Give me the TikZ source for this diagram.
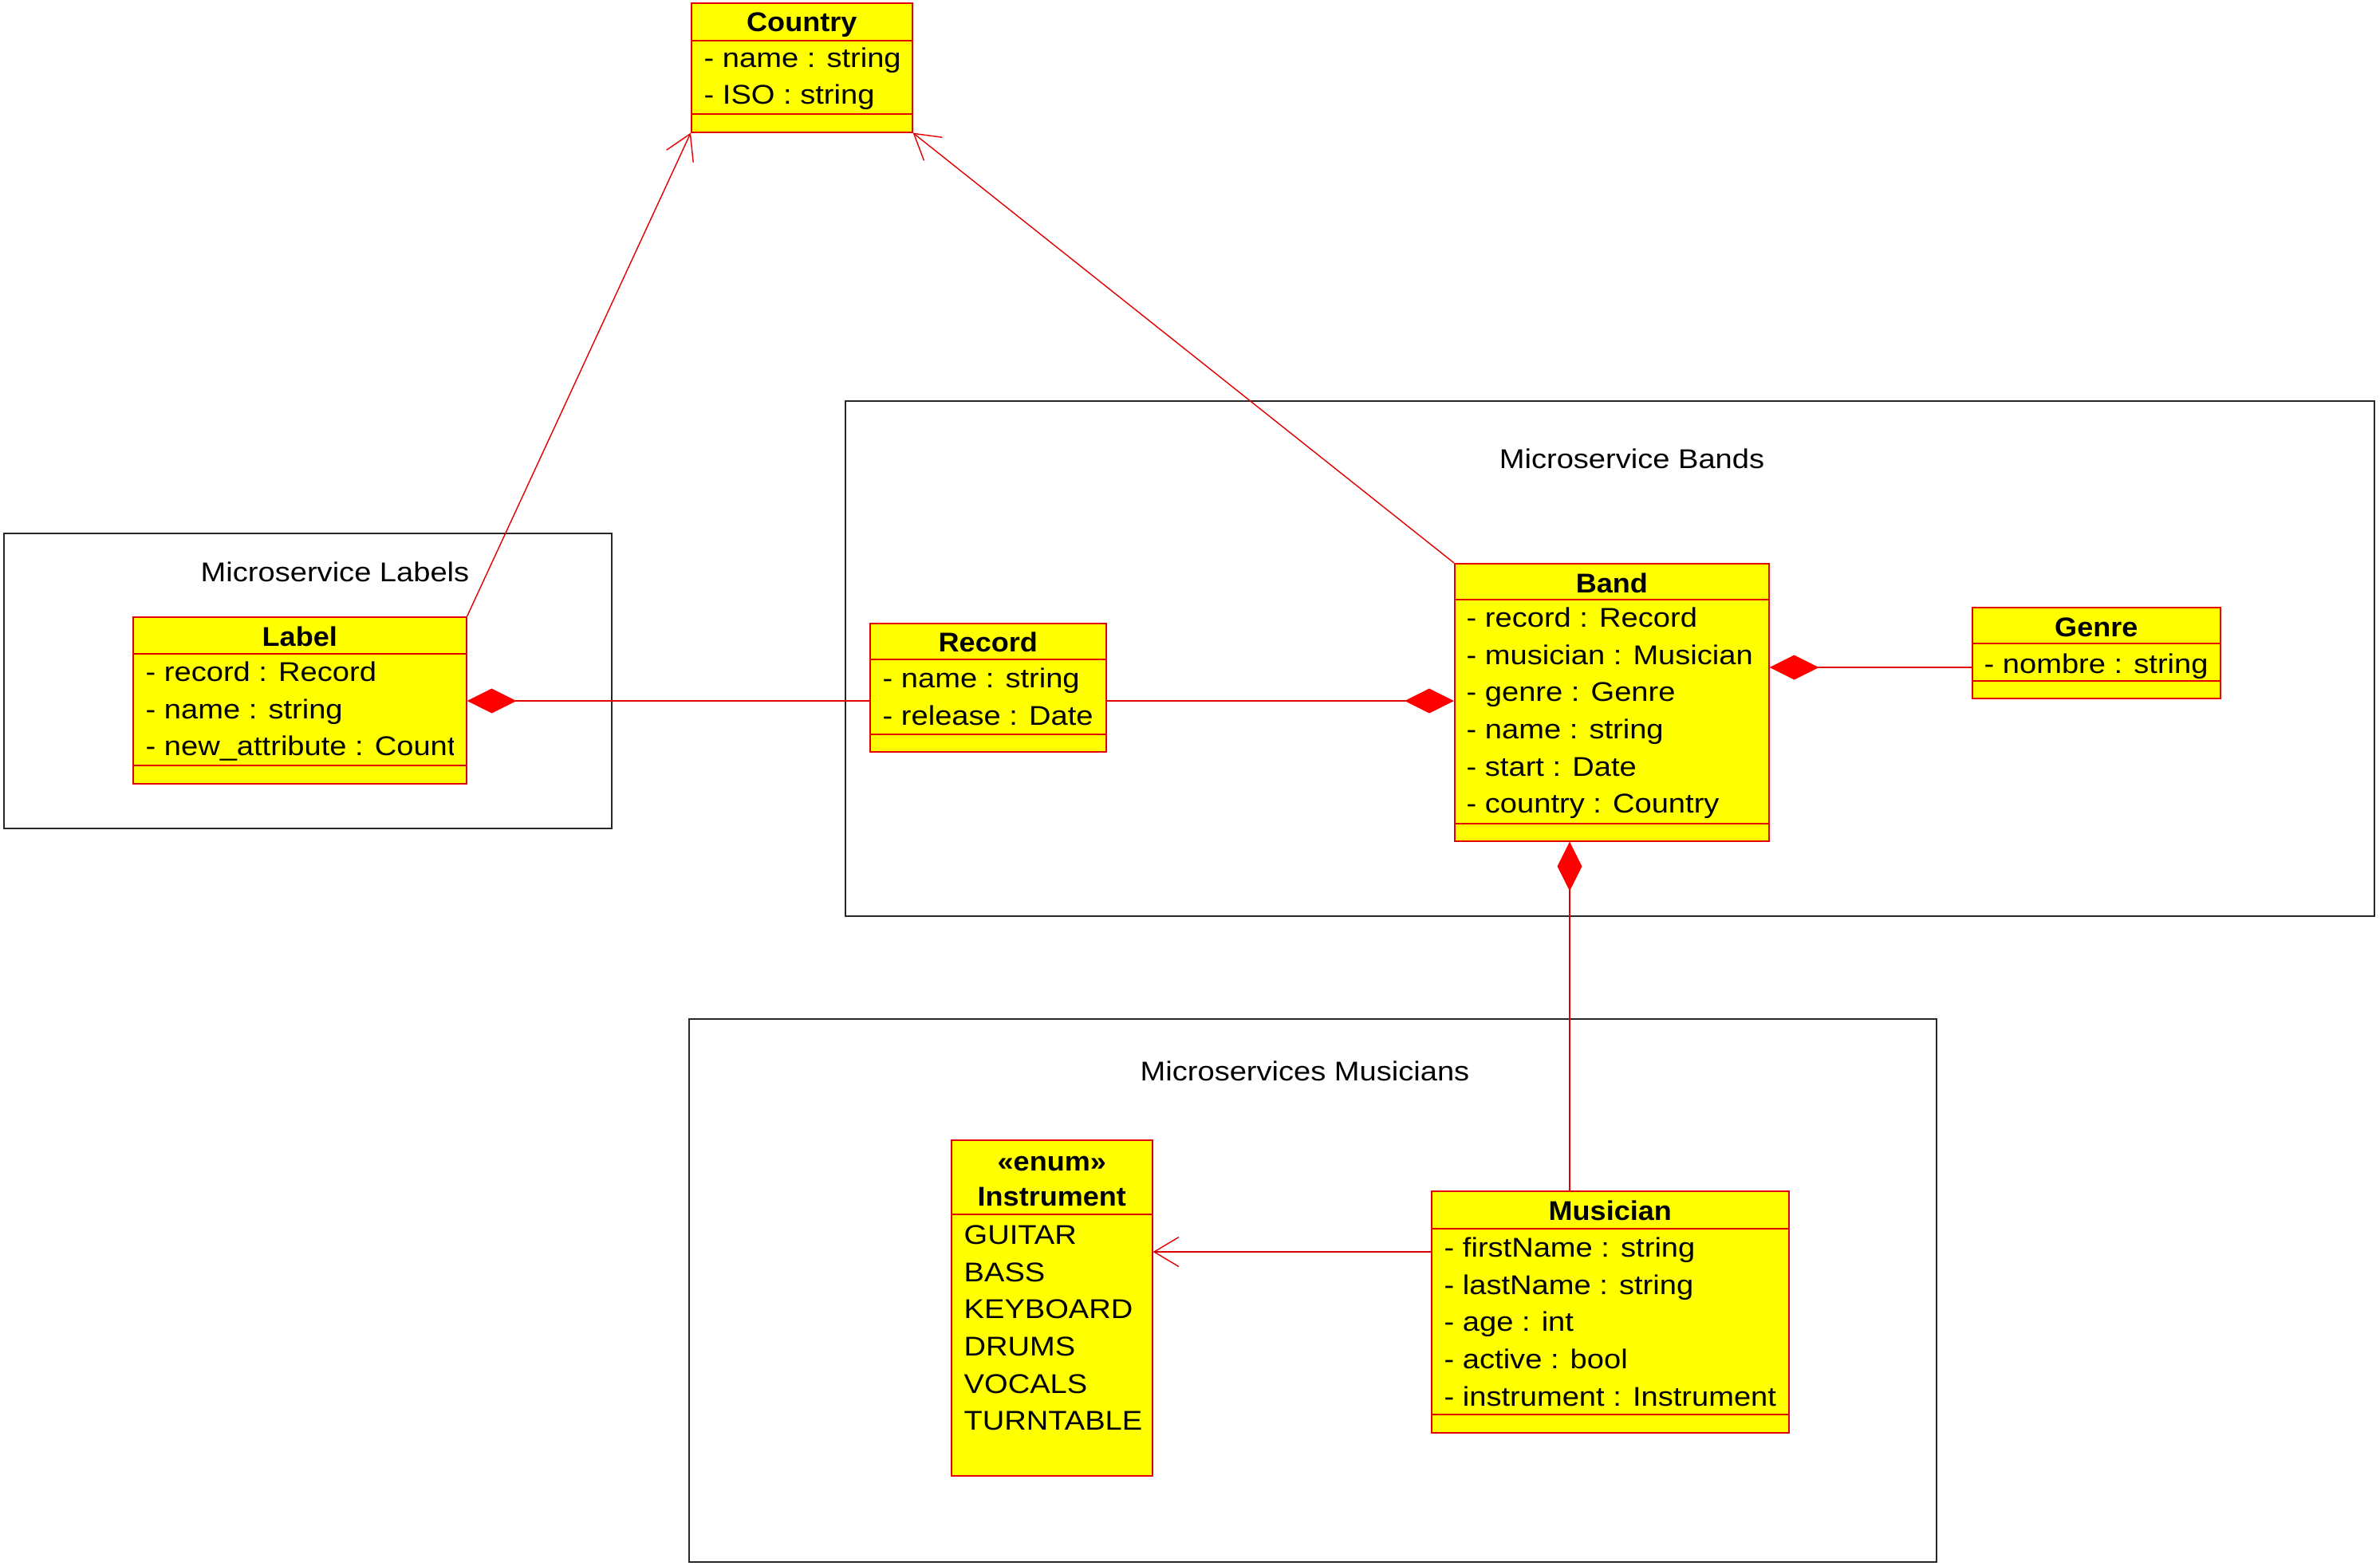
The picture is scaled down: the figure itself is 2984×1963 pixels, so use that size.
\documentclass[tikz,border=0pt]{standalone}
\usepackage{fontspec}
\setmainfont{Liberation Sans}[UprightFeatures={FakeStretch=1.12},BoldFeatures={FakeStretch=1.06}]
\usetikzlibrary{arrows.meta,calc}

% one drawing unit = one pixel of the layout grid
\newlength\upx
\setlength\upx{0.01cm}
\newcommand\umlfont{\fontsize{9.67pt}{12pt}\selectfont}

\definecolor{umlred}{RGB}{226,0,0}
\definecolor{tipred}{RGB}{255,0,0}
\definecolor{umlyellow}{RGB}{255,255,0}
\definecolor{pkgline}{RGB}{40,40,40}

\tikzset{
  classbox/.style={draw=umlred, fill=umlyellow, line width=0.45pt, inner sep=0pt, anchor=north west},
  divider/.style={draw=umlred, line width=0.4pt},
  pkg/.style={draw=pkgline, line width=0.5pt, inner sep=0pt, anchor=north west},
  pkgtitle/.style={font=\umlfont, anchor=mid, inner sep=0pt},
  ctitle/.style={font=\umlfont\bfseries, anchor=mid, inner sep=0pt},
  attr/.style={font=\umlfont, anchor=mid west, inner sep=0pt},
  link/.style={draw=umlred, line width=0.4pt},
  compose/.style={link, -{Diamond[length=17.6pt, width=8.8pt, color=tipred, fill=tipred]}},
  navig/.style={link, -{Straight Barb[length=8.8pt, width=10.5pt]}},
}

% attribute rows of a class box: #1 box, #2 x offset, #3 first row offset, #4 rows
\newcommand\attrrows[4]{%
  \foreach \t [count=\i] in {#4} {
    \node[attr] (#1-a\i) at ($(#1.north west)+(#2,{#3+46.7*(\i-1)})$) {\t};
  }%
}
% horizontal compartment line at offset #2 below the top of box #1
\newcommand\compline[2]{%
  \draw[divider] ($(#1.north west)+(0,#2)$) -- ($(#1.north east)+(0,#2)$);%
}

\begin{document}
\begin{tikzpicture}[x=0.01cm, y=-0.01cm]
\useasboundingbox (0,0) rectangle (2984,1963);

% ---- package frames ----
\node[pkg, minimum width=762\upx, minimum height=370\upx] (pkgLabels) at (4,668) {};
\node[pkgtitle] (pkgLabels-t) at (420,720) {Microservice Labels};

\node[pkg, minimum width=1917\upx, minimum height=646\upx] (pkgBands) at (1059,502) {};
\node[pkgtitle] (pkgBands-t) at (2046,578) {Microservice Bands};

\node[pkg, minimum width=1564\upx, minimum height=681\upx] (pkgMusicians) at (863,1277) {};
\node[pkgtitle] (pkgMusicians-t) at (1636,1346) {Microservices Musicians};

% ---- Country ----
\node[classbox, minimum width=277\upx, minimum height=162\upx] (country) at (866,3) {};
\compline{country}{48}
\compline{country}{140}
\node[ctitle] (country-t) at ($(country.north)+(0,27)$) {Country};
\attrrows{country}{16}{72}{- name : string, - ISO : string}

% ---- Label ----
\node[classbox, minimum width=418\upx, minimum height=209\upx] (label) at (166,773) {};
\compline{label}{47}
\compline{label}{187}
\node[ctitle] (label-t) at ($(label.north)+(0,28)$) {Label};
\begin{scope}
  \clip ($(label.north west)+(0,47)$) rectangle ($(label.south east)+(-17,0)$);
  \attrrows{label}{16}{72}{- record : Record, - name : string, - new\_attribute : Country}
\end{scope}

% ---- Record ----
\node[classbox, minimum width=296\upx, minimum height=161\upx] (record) at (1090,781) {};
\compline{record}{46}
\compline{record}{140}
\node[ctitle] (record-t) at ($(record.north)+(0,27)$) {Record};
\attrrows{record}{16}{72}{- name : string, - release : Date}

% ---- Band ----
\node[classbox, minimum width=394\upx, minimum height=348\upx] (band) at (1823,706) {};
\compline{band}{46}
\compline{band}{327}
\node[ctitle] (band-t) at ($(band.north)+(0,28)$) {Band};
\attrrows{band}{15}{71}{- record : Record, - musician : Musician, - genre : Genre, - name : string, - start : Date, - country : Country}

% ---- Genre ----
\node[classbox, minimum width=311\upx, minimum height=114\upx] (genre) at (2472,761) {};
\compline{genre}{46}
\compline{genre}{93}
\node[ctitle] (genre-t) at ($(genre.north)+(0,28)$) {Genre};
\attrrows{genre}{15}{74}{- nombre : string}

% ---- Instrument (enumeration) ----
\node[classbox, minimum width=252\upx, minimum height=421\upx] (instrument) at (1192,1429) {};
\compline{instrument}{94}
\node[ctitle] (instrument-s) at ($(instrument.north)+(0,30)$) {«enum»};
\node[ctitle] (instrument-t) at ($(instrument.north)+(0,74)$) {Instrument};
\attrrows{instrument}{16}{122}{GUITAR, BASS, KEYBOARD, DRUMS, VOCALS, TURNTABLE}

% ---- Musician ----
\node[classbox, minimum width=448\upx, minimum height=303\upx] (musician) at (1794,1493) {};
\compline{musician}{48}
\compline{musician}{281}
\node[ctitle] (musician-t) at ($(musician.north)+(0,28)$) {Musician};
\attrrows{musician}{16}{74}{- firstName : string, - lastName : string, - age : int, - active : bool, - instrument : Instrument}

% ---- connectors ----
\coordinate (yLR) at (0,879);
\coordinate (yGB) at (0,837);
\coordinate (xMB) at (1968,0);
\coordinate (yMI) at (0,1570);

\draw[navig] (label.north east) -- (country.south west);
\draw[navig] (band.north west) -- (country.south east);
\draw[compose] (record.west |- yLR) -- (label.east |- yLR);
\draw[compose] (record.east |- yLR) -- (band.west |- yLR);
\draw[compose] (genre.west |- yGB) -- (band.east |- yGB);
\draw[compose] (musician.north -| xMB) -- (band.south -| xMB);
\draw[navig] (musician.west |- yMI) -- (instrument.east |- yMI);
\end{tikzpicture}
\end{document}
